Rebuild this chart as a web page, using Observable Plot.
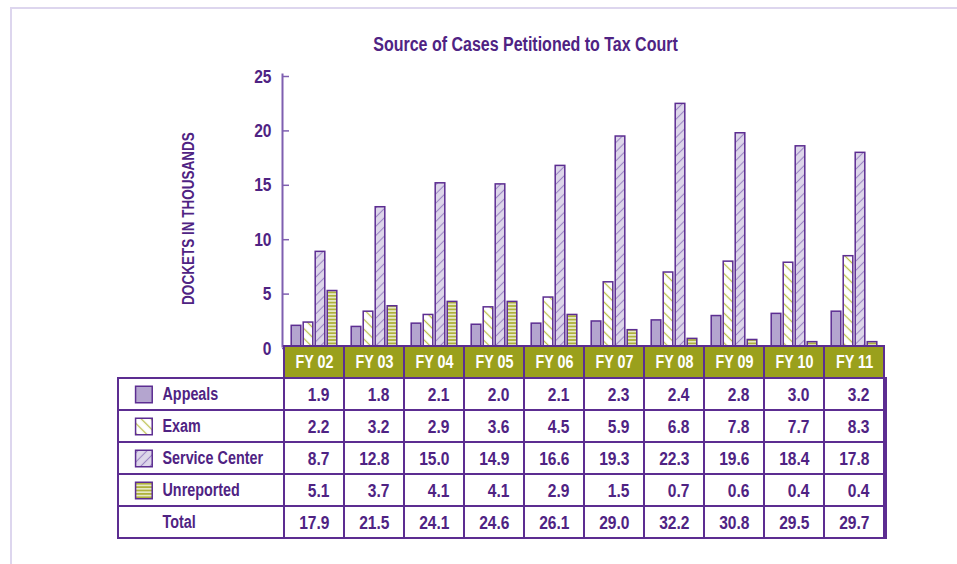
<!DOCTYPE html>
<html><head><meta charset="utf-8">
<script src="https://cdn.jsdelivr.net/npm/d3@7"></script>
<script src="https://cdn.jsdelivr.net/npm/@observablehq/plot@0.6"></script>
<style>
body{margin:0;background:#fff;}
#wrap{position:relative;width:957px;height:564px;overflow:hidden;font-family:"Liberation Sans",Arial,sans-serif;}
#frame{position:absolute;left:10px;top:7px;right:0;bottom:0;border-top:2px solid #ddd6ee;border-left:2px solid #ddd6ee;pointer-events:none}
#title{position:absolute;top:33px;left:94px;width:863px;text-align:center;font-weight:bold;font-size:19.5px;line-height:22px;color:#4f2383;transform:scaleX(0.82);transform-origin:50% 50%}
svg{display:block}
</style></head><body>
<div id="wrap"><div id="frame"></div><div id="chart"></div><div id="table"></div><div id="title">Source of Cases Petitioned to Tax Court</div></div>
<script>
// ---- data ----
const years = ["FY 02","FY 03","FY 04","FY 05","FY 06","FY 07","FY 08","FY 09","FY 10","FY 11"];
const appeals = [1.9,1.8,2.1,2.0,2.1,2.3,2.4,2.8,3.0,3.2];
const exam = [2.2,3.2,2.9,3.6,4.5,5.9,6.8,7.8,7.7,8.3];
const serviceCenter = [8.7,12.8,15.0,14.9,16.6,19.3,22.3,19.6,18.4,17.8];
const unreported = [5.1,3.7,4.1,4.1,2.9,1.5,0.7,0.6,0.4,0.4];
const totals = [17.9,21.5,24.1,24.6,26.1,29.0,32.2,30.8,29.5,29.7];
const seriesNames = ["Appeals","Exam","Service Center","Unreported"];
const yTicks = [0,5,10,15,20,25];
const yLabel = "DOCKETS IN THOUSANDS";

// ---- styles ----
const FONT = '"Liberation Sans",Arial,sans-serif';
const SQUEEZE = 0.82; // condensed look
const PURPLE = "#5c2d91";
const AXIS = "#7f5fb0";
const TXT = "#4f2383";
const OLIVE = "#9aa01c";
const fills = ["#b4a5cf","url(#pExam)","url(#pSC)","url(#pUnrep)"];

function condense(svg) {
  d3.select(svg).selectAll("text").each(function() {
    const t = d3.select(this);
    const tr = t.attr("transform");
    if (tr) t.attr("transform", tr + ` scale(${SQUEEZE},1)`);
    else {
      const x = +t.attr("x") || 0, y = +t.attr("y") || 0;
      t.attr("x", null).attr("y", null).attr("transform", `translate(${x},${y}) scale(${SQUEEZE},1)`);
    }
  });
}

const seriesValues = [appeals, exam, serviceCenter, unreported];
const barData = years.map((y,i) => ({year: y, values: seriesValues.map(s => s[i])}));

const band = 604/10;
const groupOff = (band - 46)/2;

const chart = Plot.plot({
  width: 957, height: 346,
  marginTop: 74, marginBottom: 0, marginLeft: 282, marginRight: 71,
  style: {fontFamily: FONT, background: "transparent", overflow: "visible"},
  x: {domain: years, padding: 0, axis: null},
  y: {domain: [0,25], axis: null},
  marks: [
    ...seriesNames.map((s,i) => Plot.barY(barData, {
      x: "year", y: d => d.values[i],
      fill: fills[i], stroke: PURPLE, strokeWidth: 1.5,
      insetLeft: groupOff + 12*i, insetRight: band - (groupOff + 12*i + 10)
    })),
    Plot.frame({anchor: "left", stroke: AXIS, strokeWidth: 2}),
    Plot.axisY(yTicks, {tickSize: -7, tickPadding: 18, stroke: AXIS, fill: TXT, fontSize: 19, fontWeight: "bold", dy: 2, strokeWidth: 1.5}),
    Plot.text([yLabel], {frameAnchor: "left", text: d => d, rotate: -90, textAnchor: "middle", dx: -94, dy: 8, fill: TXT, fontSize: 16.5, fontWeight: "bold"})
  ]
});

d3.select(chart).insert("defs", ":first-child").html(`
  <pattern id="pExam" patternUnits="userSpaceOnUse" width="7" height="7" patternTransform="rotate(-45)">
    <rect width="7" height="7" fill="#ffffff"/>
    <line x1="3.5" y1="0" x2="3.5" y2="7" stroke="#bcc04c" stroke-width="1.3"/>
  </pattern>
  <pattern id="pSC" patternUnits="userSpaceOnUse" width="6.5" height="6.5" patternTransform="rotate(45)">
    <rect width="6.5" height="6.5" fill="#ddd6ea"/>
    <line x1="3.25" y1="0" x2="3.25" y2="6.5" stroke="#9d87c5" stroke-width="1.1"/>
  </pattern>
  <pattern id="pUnrep" patternUnits="userSpaceOnUse" width="4" height="3.4">
    <rect width="4" height="3.4" fill="#aeb23c"/>
    <rect width="4" height="1.2" y="1.1" fill="#ffffff"/>
  </pattern>`);
condense(chart);
document.getElementById("chart").appendChild(chart);

// ---- table ----
const rowKeys = ["hdr", ...seriesNames, "Total"];
const tableValues = [appeals, exam, serviceCenter, unreported, totals];
const cells = [];
rowKeys.slice(1).forEach((r, j) => years.forEach((y, i) => cells.push({row: r, year: y, value: tableValues[j][i]})));

const table = Plot.plot({
  width: 957, height: 218,
  marginTop: 0, marginBottom: 26, marginLeft: 282, marginRight: 71,
  style: {fontFamily: FONT, background: "transparent", overflow: "visible"},
  x: {domain: years, padding: 0, axis: null},
  y: {domain: rowKeys, padding: 0, axis: null},
  marks: [
    Plot.cell(rowKeys.slice(1), {y: d => d, insetLeft: -164, fill: "white", stroke: PURPLE, strokeWidth: 2}),
    Plot.cell(cells, {x: "year", y: "row", fill: "none", stroke: PURPLE, strokeWidth: 2}),
    Plot.cell(years, {x: d => d, y: () => "hdr", fill: OLIVE, stroke: PURPLE, strokeWidth: 2}),
    Plot.text(years, {x: d => d, y: () => "hdr", text: d => d, fill: "white", fontSize: 17.5, fontWeight: "bold"}),
    Plot.text(cells, {x: "year", y: "row", text: d => d.value.toFixed(1), textAnchor: "end", dx: 15, fill: TXT, fontSize: 19, fontWeight: "bold"}),
    Plot.text(rowKeys.slice(1), {y: d => d, text: d => d, frameAnchor: "left", dx: -120, textAnchor: "start", fill: TXT, fontSize: 17.5, fontWeight: "bold"}),
    ...seriesNames.map((s,i) => Plot.dot([s], {y: d => d, frameAnchor: "left", dx: -138.6, symbol: "square", r: 9.4, fill: fills[i], stroke: PURPLE, strokeWidth: 1.5}))
  ]
});
condense(table);
document.getElementById("table").appendChild(table);
</script>
</body></html>
